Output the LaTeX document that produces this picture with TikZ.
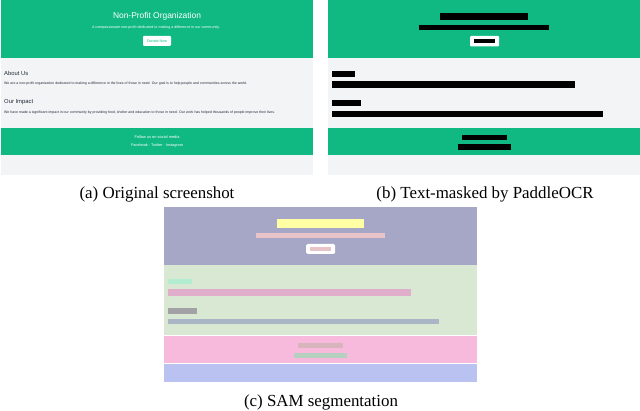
\documentclass[tikz,border=0pt]{standalone}
\usepackage{fontspec}
\usepackage{graphicx}
\setmainfont{Liberation Serif}
\newfontfamily\websans{Liberation Sans}
\definecolor{webgreen}{HTML}{10B981}
\definecolor{webgray}{HTML}{F3F4F6}
\definecolor{webtext}{HTML}{1F2937}
\definecolor{segpurple}{HTML}{A6A6C6}
\definecolor{seggreen}{HTML}{D9E8D3}
\definecolor{segpink}{HTML}{F7BADD}
\definecolor{segblue}{HTML}{BAC2F1}
\definecolor{segyellow}{HTML}{FFFFA3}
\definecolor{segrose}{HTML}{E8C4C8}
\definecolor{segmint}{HTML}{B2EDD2}
\definecolor{segmagenta}{HTML}{E0AECB}
\definecolor{seggray}{HTML}{A2A2A6}
\definecolor{segslate}{HTML}{AAB6C6}
\definecolor{segtan}{HTML}{D8B4BC}
\definecolor{segsage}{HTML}{B6D0C0}
\newcommand{\fitw}[2]{\resizebox{#1}{!}{#2}}
\tikzset{
  region/.style={fill=#1, draw=none},
  bar/.style={fill=#1, draw=none},
  webtxt/.style={inner sep=0pt, font=\websans},
  caption/.style={inner sep=0pt, font=\fontsize{16.9}{20}\selectfont}
}
\begin{document}
\begin{tikzpicture}[x=1pt,y=-1pt]
\useasboundingbox (0,0) rectangle (640,411);
\fill[white] (0,0) rectangle (640,411);
% ---------- (a) original screenshot ----------
\fill[region=webgray] (1,58) rectangle (313,175);
\fill[region=webgreen] (1,0) rectangle (313,58);
\fill[region=webgreen] (1,128.5) rectangle (313,155);
\node[webtxt, text=white] (atitle) at (157,16) {\fitw{88pt}{Non-Profit Organization}};
\node[webtxt, text=white] (asub) at (156,28) {\fitw{128pt}{A compassionate non-profit dedicated to making a difference in our community.}};
\node[draw=none, fill=white, rounded corners=1pt, minimum width=28pt, minimum height=10pt, inner sep=0pt] (abtn) at (157,41) {};
\node[webtxt, text=webgreen] (abtntxt) at (abtn.center) {\fitw{20pt}{Donate Now}};
\node[webtxt, text=webtext, anchor=west] (aabout) at (4,73) {\fitw{24pt}{About Us}};
\node[webtxt, text=webtext, anchor=west] (ap1) at (4,84) {\fitw{243pt}{We are a non-profit organization dedicated to making a difference in the lives of those in need. Our goal is to help people and communities across the world.}};
\node[webtxt, text=webtext, anchor=west] (aimpact) at (4,102.5) {\fitw{29pt}{Our Impact}};
\node[webtxt, text=webtext, anchor=west] (ap2) at (4,113) {\fitw{271pt}{We have made a significant impact in our community by providing food, shelter and education to those in need. Our work has helped thousands of people improve their lives.}};
\node[webtxt, text=white] (af1) at (157,137) {\fitw{45pt}{Follow us on social media}};
\node[webtxt, text=white] (af2) at (157,146) {\fitw{52pt}{Facebook \textperiodcentered\ Twitter \textperiodcentered\ Instagram}};
% ---------- (b) text-masked ----------
\fill[region=webgray] (328,58) rectangle (640,175);
\fill[region=webgreen] (328,0) rectangle (640,58);
\fill[region=webgreen] (328,128.5) rectangle (640,155);
\fill[bar=black] (440,12.7) rectangle (528,20);
\fill[bar=black] (419,25) rectangle (549,30.3);
\fill[white, rounded corners=1pt] (470,36) rectangle (499,46.5);
\fill[bar=black] (474,39.5) rectangle (495,43);
\fill[bar=black] (332,71) rectangle (355,77);
\fill[bar=black] (332,81) rectangle (575,88);
\fill[bar=black] (332,100) rectangle (361,106);
\fill[bar=black] (332,111) rectangle (603,117);
\fill[bar=black] (462,134.7) rectangle (507,140);
\fill[bar=black] (458,144.3) rectangle (511,150);
% ---------- (c) SAM segmentation ----------
\fill[region=segpurple] (164,207.5) rectangle (477,265);
\fill[region=seggreen] (164,265.5) rectangle (477,335);
\fill[region=segpink] (164,336) rectangle (477,363);
\fill[region=segblue] (164,364) rectangle (477,382.5);
\fill[bar=segyellow] (277,219.5) rectangle (364,228);
\fill[bar=segrose] (256,233) rectangle (385,238);
\fill[white, rounded corners=1.5pt] (306,244) rectangle (335,254);
\fill[bar=segrose] (310,247) rectangle (331,251);
\fill[bar=segmint, rounded corners=1pt] (168,279) rectangle (192,284);
\fill[bar=segmagenta] (168,289) rectangle (411,296);
\fill[bar=seggray] (168,308) rectangle (197,314);
\fill[bar=segslate] (168,319) rectangle (439,324);
\fill[bar=segtan] (298,343) rectangle (343,348);
\fill[bar=segsage] (294,353) rectangle (347,358);
% ---------- captions ----------
\node[caption] (capa) at (157,194) {(a) Original screenshot};
\node[caption] (capb) at (485,194) {(b) Text-masked by PaddleOCR};
\node[caption] (capc) at (321,402) {(c) SAM segmentation};
\end{tikzpicture}
\end{document}
